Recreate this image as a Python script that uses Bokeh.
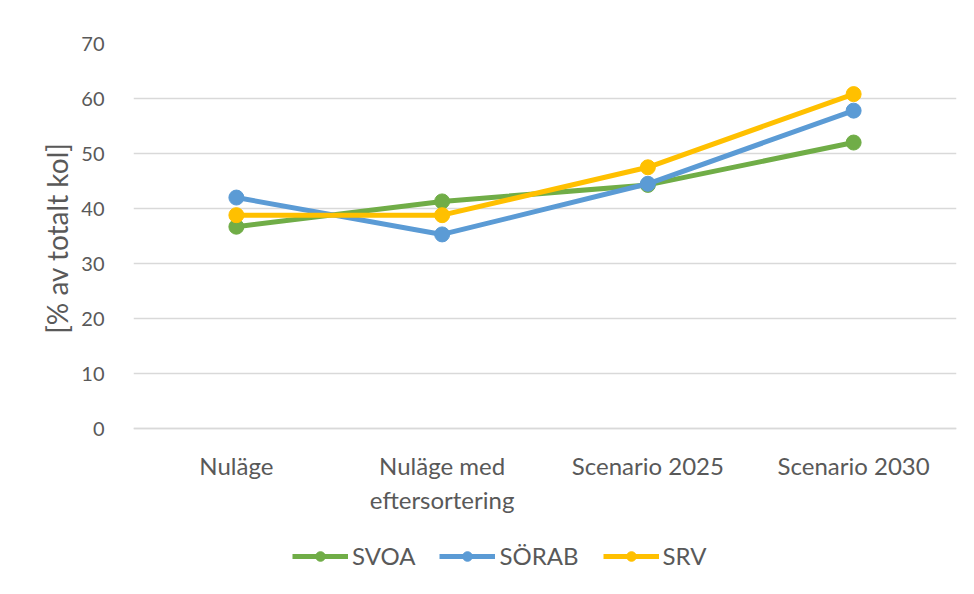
from bokeh.plotting import figure
from bokeh.models import Legend, LegendItem, Range1d, FixedTicker, Title
from bokeh.embed import file_html
from bokeh.resources import INLINE

categories = ["Nuläge", "Nuläge med\neftersortering", "Scenario 2025", "Scenario 2030"]
series_names = ["SVOA", "SÖRAB", "SRV"]
svoa = [36.7, 41.3, 44.3, 52.0]
sorab = [42.0, 35.3, 44.5, 57.8]
srv = [38.8, 38.8, 47.5, 60.8]
colors = ["#70AD47", "#5B9BD5", "#FFC000"]
y_ticks = [0, 10, 20, 30, 40, 50, 60, 70]

FONT = "Lato"
TXT = "#595959"

# frame extends below 0 so that category labels and legend sit inside it
p = figure(x_range=categories, y_range=Range1d(-27.6, 70),
           frame_width=823, frame_height=537,
           output_backend="svg", toolbar_location=None,
           min_border_left=133, min_border_right=10, min_border_top=43, min_border_bottom=0)
p.outline_line_color = None
p.background_fill_color = "white"
p.border_fill_color = "white"

p.xgrid.grid_line_color = None
p.ygrid.grid_line_color = "#D9D9D9"
p.ygrid.grid_line_width = 1.5
p.yaxis.ticker = FixedTicker(ticks=y_ticks)
p.yaxis.axis_line_color = None
p.yaxis.major_tick_line_color = None
p.yaxis.minor_tick_line_color = None
p.yaxis.major_label_text_font = FONT
p.yaxis.major_label_text_font_size = "20px"
p.yaxis.major_label_text_color = TXT
p.yaxis.major_label_standoff = 23

ylabel = Title(text="[% av totalt kol]", align="right", offset=99,
               text_font=FONT, text_font_size="28px", text_font_style="normal",
               text_color=TXT)
p.add_layout(ylabel, "left")

p.xaxis.fixed_location = 0
p.xaxis.axis_line_color = "#D9D9D9"
p.xaxis.axis_line_width = 1.5
p.xaxis.major_tick_line_color = None
p.xaxis.minor_tick_line_color = None
p.xaxis.major_label_text_font = FONT
p.xaxis.major_label_text_font_size = "24px"
p.xaxis.major_label_text_color = TXT
p.xaxis.major_label_standoff = 16

items = []
for name, vals, c in zip(series_names, [svoa, sorab, srv], colors):
    l = p.line(categories, vals, line_color=c, line_width=5)
    s = p.scatter(categories, vals, size=15, fill_color=c, line_color=c)
    items.append(LegendItem(label=name, renderers=[l, s]))

legend = Legend(items=items, orientation="horizontal", location=(159, 10),
                label_text_font=FONT, label_text_font_size="24px", label_text_color=TXT,
                glyph_width=56, glyph_height=24, spacing=24, padding=0, margin=0,
                border_line_color=None, background_fill_alpha=0, label_standoff=4)
p.add_layout(legend, "center")

open("out.html", "w").write(file_html(p, INLINE))
